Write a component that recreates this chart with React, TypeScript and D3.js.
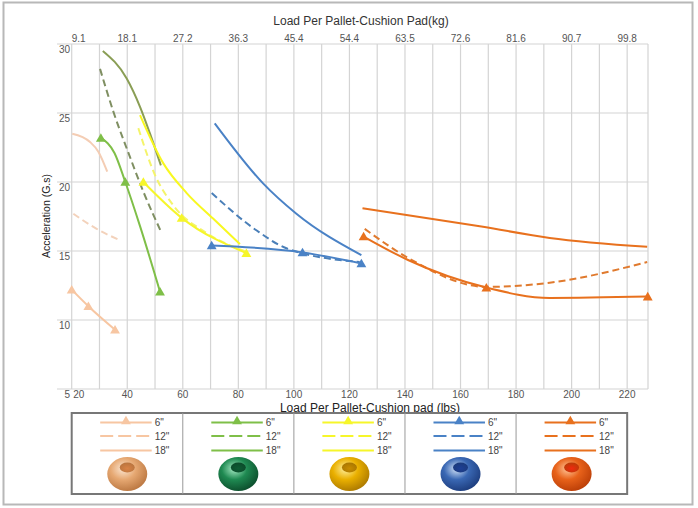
import React from "react";
import * as d3 from "d3";

// x in lbs, y in G; third value 1 = triangle marker
type Pt = [number, number, number?];

const xTicks = [20, 40, 60, 80, 100, 120, 140, 160, 180, 200, 220];
const kgLabels = ["9.1", "18.1", "27.2", "36.3", "45.4", "54.4", "63.5", "72.6", "81.6", "90.7", "99.8"];
const yTicks = [5, 10, 15, 20, 25, 30];
const gridX = [20, 30, 40, 50, 60, 70, 80, 90, 100, 110, 120, 130, 140, 150, 160, 170, 180, 190, 200, 210, 220, 227.5];

const peach6: Pt[] = [[20, 12.2, 1], [26, 11.0, 1], [35.6, 9.3, 1]];
const peach12: Pt[] = [[20.6, 17.7], [29, 16.6], [37.1, 15.8]];
const peach18: Pt[] = [[20.2, 23.5], [26.6, 22.9], [29.6, 22.2], [32.8, 20.75]];

const green6: Pt[] = [[30.5, 23.2, 1], [35.4, 22.1], [39.3, 20.0, 1], [44.6, 16.8], [51.8, 12.05, 1]];
const green12: Pt[] = [[30.2, 28.2], [35, 25.1], [41, 21.8], [46, 19.2], [52.4, 16.3]];
const green18: Pt[] = [[31.2, 29.5], [39.8, 27.5], [44.6, 25.45], [48.2, 23.5], [52.1, 21.2]];

const yellow6: Pt[] = [[45.8, 20.0, 1], [59.6, 17.4, 1], [82.9, 14.85, 1]];
const yellow12: Pt[] = [[44, 23.9], [50, 20.5], [56.6, 18.3], [68.6, 16.3], [82.9, 14.95]];
const yellow18: Pt[] = [[44.6, 24.85], [53, 21.35], [61.4, 19.2], [70.9, 17.35], [80.6, 15.5]];

const blue6: Pt[] = [[70.4, 15.4, 1], [103.1, 14.9, 1], [124.3, 14.1, 1]];
const blue12: Pt[] = [[70.4, 19.2], [86.5, 16.5], [97.3, 15.2], [123.7, 14.2]];
const blue18: Pt[] = [[71.5, 24.25], [88.9, 19.9], [100.9, 17.7], [124.3, 14.7]];

const orange6: Pt[] = [[125.1, 16.05, 1], [141.1, 14.35], [169.3, 12.35, 1], [192.1, 11.6], [227.4, 11.7, 1]];
const orange12: Pt[] = [[125.5, 16.6], [141.1, 14.5], [169.3, 12.4], [192.1, 12.7], [227.2, 14.2]];
const orange18: Pt[] = [[124.7, 18.1], [168.1, 16.75], [192.1, 15.95], [227.2, 15.3]];

const groups = [
  { name: "peach", color: "#f7c6a2", dash: "#f3d2bb", solid: "#f4cdb4", s6: peach6, s12: peach12, s18: peach18, donut: ["#fbe6d2", "#e6a872", "#b8743e", "#d98346"] },
  { name: "green", color: "#7fbf48", dash: "#7f8f62", solid: "#8a9e55", s6: green6, s12: green12, s18: green18, donut: ["#a8ecc6", "#1f8a52", "#0b4a2a", "#0e5c34"] },
  { name: "yellow", color: "#f6f62a", dash: "#f4f46a", solid: "#f8f820", s6: yellow6, s12: yellow12, s18: yellow18, donut: ["#fff0a0", "#eab000", "#a87600", "#c88c00"] },
  { name: "blue", color: "#4a82c6", dash: "#4a7fb8", solid: "#4a82c6", s6: blue6, s12: blue12, s18: blue18, donut: ["#d4e4f8", "#3a68b4", "#1b3a7a", "#1e3f96"] },
  { name: "orange", color: "#e8711e", dash: "#e07a2e", solid: "#e8711e", s6: orange6, s12: orange12, s18: orange18, donut: ["#ffc79a", "#e8621a", "#b83c06", "#f02a10"] },
];

const W = 698;
const H = 508;

export default function App() {
  const x = d3.scaleLinear().domain([20, 227.5]).range([71.7, 648]);
  const y = d3.scaleLinear().domain([5, 30]).range([389, 44]);
  const line = d3
    .line<Pt>()
    .x((d) => x(d[0]))
    .y((d) => y(d[1]))
    .curve(d3.curveMonotoneX);
  const tri = d3.symbol(d3.symbolTriangle, 42)()!;
  const font = "'Liberation Sans', Arial, sans-serif";

  const colW = x(60) - x(20);
  const legTop = 413;
  const legBottom = 494;

  return (
    <svg
      width={W}
      height={H}
      style={{ position: "absolute", left: 0, top: 0, background: "#fff" }}
      fontFamily={font}
    >
      <defs>
        {groups.map((g) => (
          <React.Fragment key={g.name}>
            <radialGradient id={`body-${g.name}`} cx="0.4" cy="0.35" r="0.7">
              <stop offset="0" stopColor={g.donut[0]} />
              <stop offset="0.45" stopColor={g.donut[1]} />
              <stop offset="1" stopColor={g.donut[2]} />
            </radialGradient>
            <radialGradient id={`hole-${g.name}`} cx="0.5" cy="0.6" r="0.6">
              <stop offset="0" stopColor={g.donut[3]} />
              <stop offset="1" stopColor={g.donut[2]} />
            </radialGradient>
          </React.Fragment>
        ))}
      </defs>

      <rect x={3.5} y={2.5} width={689} height={502} fill="#fff" stroke="#b8b8b8" strokeWidth={2} />

      {/* grid */}
      {gridX.map((v) => (
        <line key={`gx${v}`} x1={x(v)} x2={x(v)} y1={y(30)} y2={y(5)} stroke="#d4d4d4" strokeWidth={1.2} />
      ))}
      {yTicks.map((v) => (
        <line key={`gy${v}`} x1={57} x2={x(227.5)} y1={y(v)} y2={y(v)} stroke="#d4d4d4" strokeWidth={1.2} />
      ))}

      {/* y tick labels */}
      {yTicks.map((v) => (
        <text key={`yl${v}`} x={70} y={y(v) + 8.5} fontSize={10} fill="#555" textAnchor="end">
          {v}
        </text>
      ))}
      {/* bottom tick labels */}
      {xTicks.map((v, i) => (
        <text key={`xl${v}`} x={x(v) + (i === 0 ? 7 : 0)} y={398} fontSize={10} fill="#555" textAnchor="middle">
          {v}
        </text>
      ))}
      {/* top tick labels (kg) */}
      {xTicks.map((v, i) => (
        <text key={`kl${v}`} x={x(v) + (i === 0 ? 7 : 0)} y={41.5} fontSize={10} fill="#555" textAnchor="middle">
          {kgLabels[i]}
        </text>
      ))}

      <text x={361} y={25} fontSize={12} fill="#333" textAnchor="middle">
        Load Per Pallet-Cushion Pad(kg)
      </text>
      <text x={370} y={412} fontSize={12} fill="#222" textAnchor="middle">
        Load Per Pallet-Cushion pad (lbs)
      </text>
      <text transform="translate(50,216) rotate(-90)" fontSize={10.5} fill="#222" textAnchor="middle">
        Acceleration (G.s)
      </text>

      {/* series */}
      {groups.map((g) => (
        <g key={g.name}>
          <path d={line(g.s18) ?? ""} fill="none" stroke={g.solid} strokeWidth={2} />
          <path d={line(g.s12) ?? ""} fill="none" stroke={g.dash} strokeWidth={2} strokeDasharray="7,4" />
          <path d={line(g.s6) ?? ""} fill="none" stroke={g.color} strokeWidth={2} />
          {g.s6
            .filter((d) => d[2])
            .map((d, i) => (
              <path key={i} d={tri} transform={`translate(${x(d[0])},${y(d[1]) + 1})`} fill={g.color} />
            ))}
        </g>
      ))}

      {/* legend */}
      <rect x={x(20)} y={legTop} width={x(220) - x(20)} height={legBottom - legTop} fill="#fff" stroke="#777" strokeWidth={2} />
      {groups.map((g, i) => {
        const left = x(20) + i * colW;
        const cx = left + colW / 2;
        const x1 = left + 28.5;
        const x2 = left + 80;
        return (
          <g key={`leg${g.name}`}>
            {i > 0 && <line x1={left} x2={left} y1={legTop} y2={legBottom} stroke="#999" strokeWidth={1} />}
            <line x1={x1} x2={x2} y1={422.5} y2={422.5} stroke={g.color} strokeWidth={2} />
            <path d={tri} transform={`translate(${(x1 + x2) / 2},421.5)`} fill={g.color} />
            <line x1={x1} x2={x2} y1={436} y2={436} stroke={g.color} strokeWidth={2} strokeDasharray="13,5" />
            <line x1={x1} x2={x2} y1={450.5} y2={450.5} stroke={g.color} strokeWidth={2} />
            <text x={x2 + 3} y={426} fontSize={10} fill="#444">6"</text>
            <text x={x2 + 3} y={439.5} fontSize={10} fill="#444">12"</text>
            <text x={x2 + 3} y={454} fontSize={10} fill="#444">18"</text>
            <ellipse cx={cx} cy={474} rx={20} ry={17} fill={`url(#body-${g.name})`} />
            <ellipse cx={cx} cy={467.5} rx={7.5} ry={5} fill={`url(#hole-${g.name})`} />
          </g>
        );
      })}
    </svg>
  );
}
